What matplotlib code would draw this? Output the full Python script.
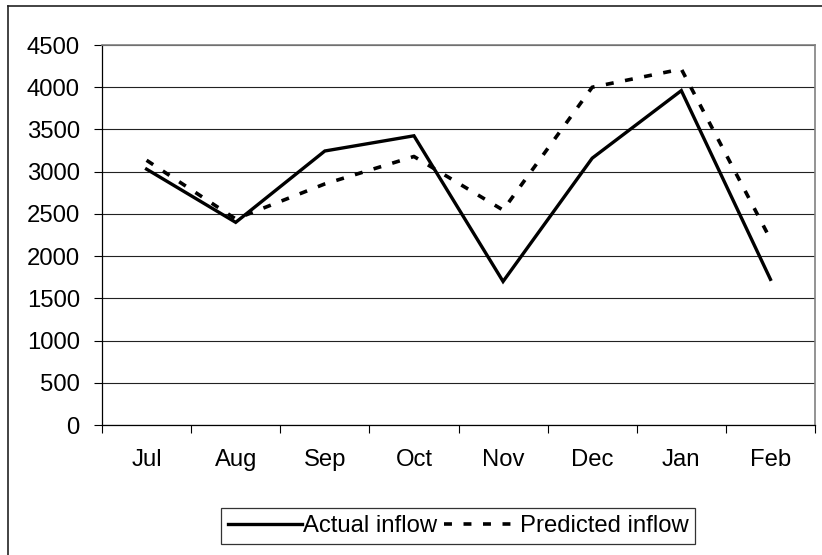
import matplotlib.pyplot as plt
from matplotlib.lines import Line2D

plt.rcParams['font.family'] = ['Liberation Sans', 'DejaVu Sans']

months = ["Jul", "Aug", "Sep", "Oct", "Nov", "Dec", "Jan", "Feb"]
actual = [3030, 2400, 3245, 3425, 1700, 3160, 3960, 1725]
predicted = [3135, 2440, 2855, 3180, 2545, 4000, 4215, 2200]
yticks = list(range(0, 4501, 500))

fs = 17.2
fig = plt.figure(figsize=(8.22, 5.55), dpi=100)
ax = fig.add_axes([0.1241, 0.2342, 0.8674, 0.6847])

x = range(len(months))
ax.plot(x, actual, color="black", lw=2.4, label="Actual inflow", solid_joinstyle="miter")
ax.plot(x, predicted, color="black", lw=2.6, dashes=(2.2, 3.2), label="Predicted inflow")

ax.set_xlim(-0.5, len(months) - 0.5)
ax.set_ylim(0, 4500)
ax.set_yticks(yticks)
ax.set_yticklabels([str(v) for v in yticks], fontsize=fs)
ax.set_xticks(list(x))
ax.set_xticklabels(months, fontsize=fs)
ax.set_xticks([i - 0.5 for i in range(len(months) + 1)], minor=True)
ax.tick_params(axis="x", which="major", length=0, pad=17)
ax.tick_params(axis="x", which="minor", length=6, width=0.8, direction="out")
ax.tick_params(axis="y", length=6, width=0.8, pad=10)
ax.grid(axis="y", color="#222222", lw=0.8)
ax.set_axisbelow(True)
for s in ["top", "right"]:
    ax.spines[s].set_color("#808080")
    ax.spines[s].set_linewidth(1.2)
for s in ["left", "bottom"]:
    ax.spines[s].set_linewidth(0.9)

leg = ax.legend(loc="center", bbox_to_anchor=(458 / 822, 1 - 526 / 555),
                bbox_transform=fig.transFigure, ncol=2, fontsize=fs,
                frameon=True, fancybox=False, edgecolor="black",
                handlelength=3.1, handletextpad=0.05, columnspacing=0.3,
                borderpad=0.3, borderaxespad=0)
leg.get_frame().set_linewidth(0.9)

# outer chart border (only top and left edges visible)
fig.add_artist(Line2D([7.5 / 822, 7.5 / 822], [0, 1 - 6 / 555], color="#222222", lw=1.2,
                      transform=fig.transFigure))
fig.add_artist(Line2D([7.5 / 822, 1], [1 - 6 / 555, 1 - 6 / 555], color="#222222", lw=1.2,
                      transform=fig.transFigure))

fig.savefig("out.png", dpi=100)
